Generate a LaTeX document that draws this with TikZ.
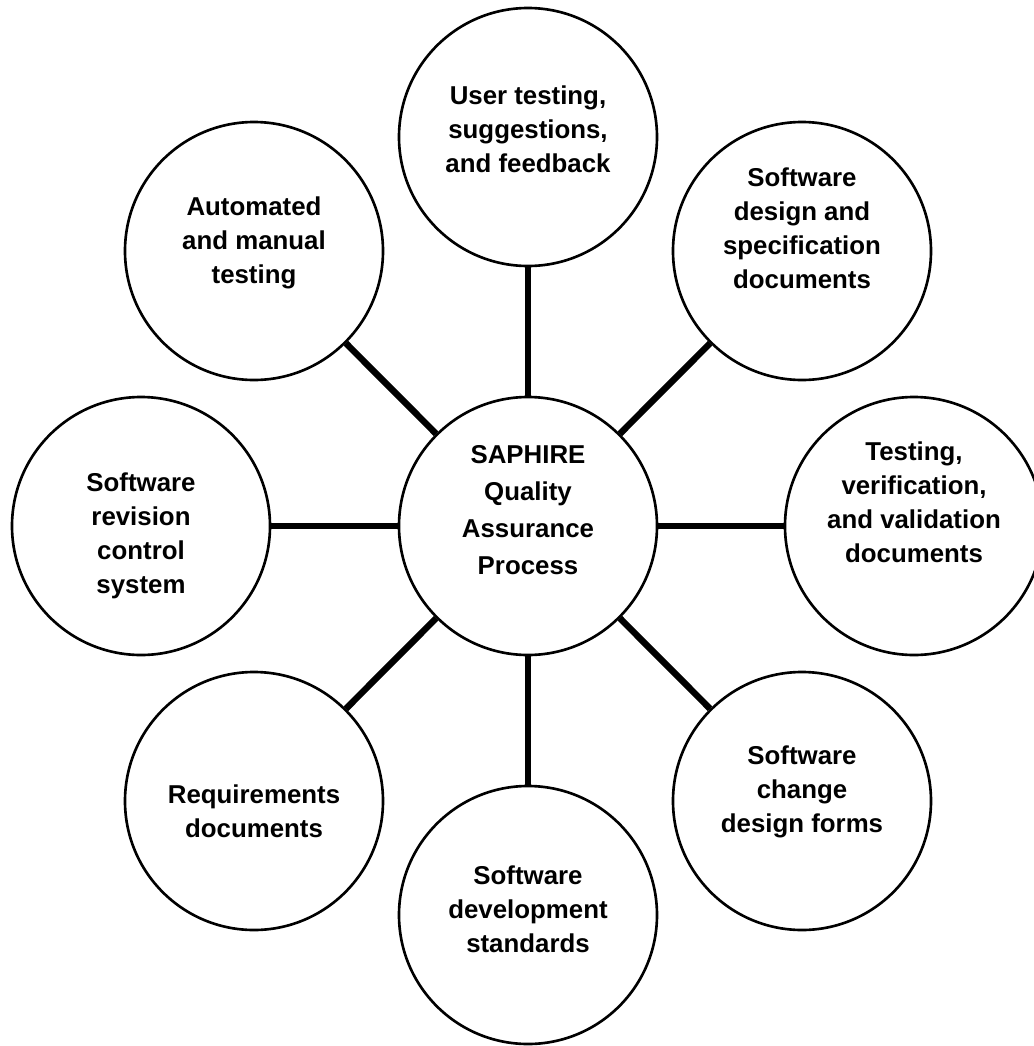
\documentclass[tikz,border=0pt]{standalone}
\usepackage{fontspec}
\setmainfont{Liberation Sans}
\usepackage{tikz}

\begin{document}
\begin{tikzpicture}
    \useasboundingbox (0,0) rectangle (20.68,-20.92);
    % Define block styles
    \tikzstyle{bubble} = [circle, minimum size=5.16cm, inner sep=0pt, draw=black, line width=1.5pt, fill=white]
    \tikzstyle{txt} = [align=center, inner sep=0pt, font=\fontsize{14.7}{19.4}\selectfont\bfseries]
    \tikzstyle{hubtxt} = [txt, font=\fontsize{14.7}{21}\selectfont\bfseries]
    \tikzstyle{link} = [line width=3.7pt]

    % Draw nodes
    \node (qa) [bubble, label={[hubtxt, yshift=3.2mm]center:{SAPHIRE\\Quality\\Assurance\\Process}}] at (10.56,-10.52) {};
    \node (user) [bubble, label={[txt, yshift=1.6mm]center:{User testing,\\suggestions,\\and feedback}}] at (10.56,-2.74) {};
    \node (design) [bubble, label={[txt, yshift=4.6mm]center:{Software\\design and\\specification\\documents}}] at (16.04,-5.02) {};
    \node (testing) [bubble, label={[txt, yshift=4.8mm]center:{Testing,\\verification,\\and validation\\documents}}] at (18.28,-10.52) {};
    \node (change) [bubble, label={[txt, yshift=1.8mm]center:{Software\\change\\design forms}}] at (16.04,-16.02) {};
    \node (standards) [bubble, label={[txt, yshift=1.2mm]center:{Software\\development\\standards}}] at (10.56,-18.30) {};
    \node (reqs) [bubble, label={[txt, yshift=-2mm]center:{Requirements\\documents}}] at (5.08,-16.02) {};
    \node (revision) [bubble, label={[txt, yshift=-2mm]center:{Software\\revision\\control\\system}}] at (2.82,-10.52) {};
    \node (manual) [bubble, label={[txt, yshift=1.6mm]center:{Automated\\and manual\\testing}}] at (5.08,-5.02) {};

    % Draw edges
    \draw [link] (qa) -- (user);
    \draw [link] (qa) -- (design);
    \draw [link] (qa) -- (testing);
    \draw [link] (qa) -- (change);
    \draw [link] (qa) -- (standards);
    \draw [link] (qa) -- (reqs);
    \draw [link] (qa) -- (revision);
    \draw [link] (qa) -- (manual);

\end{tikzpicture}
\end{document}
